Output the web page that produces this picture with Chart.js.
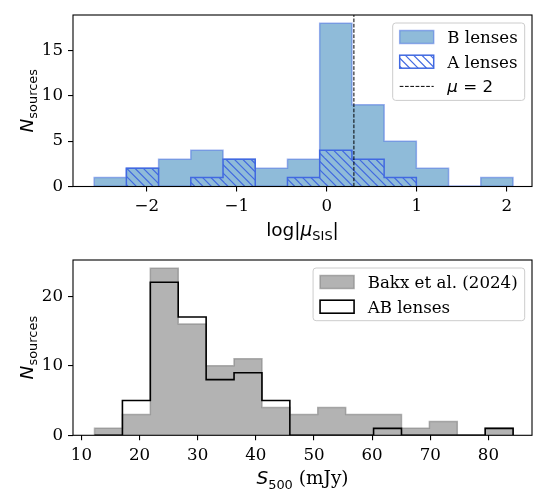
<!DOCTYPE html>
<html>
<head>
<meta charset="utf-8">
<script src="https://cdn.jsdelivr.net/npm/chart.js@4.4.1/dist/chart.umd.min.js"></script>
<style>
  body { margin: 0; background: #fff; }
  canvas { position: absolute; left: 0; }
</style>
</head>
<body>
<canvas id="muChart" width="541" height="245" style="top:0"></canvas>
<canvas id="fluxChart" width="541" height="246" style="top:245px"></canvas>
<script>
'use strict';

// magnification histogram, log|mu_SIS|
const muEdges = [-2.585, -2.227, -1.869, -1.511, -1.153, -0.795, -0.437, -0.079, 0.279, 0.637, 0.995, 1.353, 1.711, 2.069];
const bLensCounts = [1, 2, 3, 4, 3, 2, 3, 18, 9, 5, 2, 0, 1];
const aLensCounts = [0, 2, 0, 1, 3, 0, 1, 4, 3, 1, 0, 0, 0];
const muTwo = Math.log10(2);
const muTicks = [-2, -1, 0, 1, 2];
const muCountTicks = [0, 5, 10, 15];

// 500 micron flux histogram
const fluxEdges = [12.25, 17.05, 21.85, 26.65, 31.45, 36.25, 41.05, 45.85, 50.65, 55.45, 60.25, 65.05, 69.85, 74.65, 79.45, 84.25];
const bakxCounts = [1, 3, 24, 16, 10, 11, 4, 3, 4, 3, 3, 1, 2, 0, 1];
const abLensCounts = [0, 5, 22, 17, 8, 9, 5, 0, 0, 0, 1, 0, 0, 0, 1];
const fluxTicks = [10, 20, 30, 40, 50, 60, 70, 80];
const fluxCountTicks = [0, 10, 20];

const FS = 16.67;   // tick and legend text
const LS = 18.5;    // axis titles
const SERIF = FS + 'px "DejaVu Serif"';
const SANS = FS + 'px "DejaVu Sans"';
const SANS_IT = 'italic ' + FS + 'px "DejaVu Sans"';
const T_SERIF = LS + 'px "DejaVu Serif"';
const T_SANS = LS + 'px "DejaVu Sans"';
const T_SANS_IT = 'italic ' + LS + 'px "DejaVu Sans"';
const T_SUB = (LS * 0.7).toFixed(2) + 'px "DejaVu Sans"';
const SUB_DY = 4.2;

const royal = 'rgb(65,105,225)';

// outline of a histogram: up the first edge, across each bin, down the last edge
function stepPoints(edges, counts) {
    let pts = [{x: edges[0], y: 0}];
    for (let i = 0; i < counts.length; i++) {
        pts.push({x: edges[i], y: counts[i]});
    }
    pts.push({x: edges[edges.length - 1], y: 0});
    return pts;
}

function hatchPattern(color) {
    const s = 25;
    const c = document.createElement('canvas');
    c.width = s; c.height = s;
    const g = c.getContext('2d');
    g.strokeStyle = color;
    g.lineWidth = 1.2;
    for (let k = -s; k <= s + 0.01; k += s / 3) {
        g.beginPath();
        g.moveTo(k - 2, -2);
        g.lineTo(k + s + 2, s + 2);
        g.stroke();
    }
    return g.createPattern(c, 'repeat');
}
const hatch = hatchPattern(royal);

function partsWidth(ctx, parts) {
    let w = 0;
    parts.forEach(p => { ctx.font = p.font; w += ctx.measureText(p.text).width; });
    return w;
}

function drawParts(ctx, parts, x, baseline) {
    ctx.textAlign = 'left';
    ctx.textBaseline = 'alphabetic';
    ctx.fillStyle = '#000';
    parts.forEach(p => {
        ctx.font = p.font;
        ctx.fillText(p.text, x, baseline + (p.dy || 0));
        x += ctx.measureText(p.text).width;
    });
}

function drawHandle(ctx, it, x, y, w, h) {
    if (it.kind === 'dash') {
        ctx.save();
        ctx.strokeStyle = '#000';
        ctx.lineWidth = 1;
        ctx.setLineDash([3.7, 1.6]);
        ctx.beginPath();
        ctx.moveTo(x, y + h / 2);
        ctx.lineTo(x + w, y + h / 2);
        ctx.stroke();
        ctx.restore();
        return;
    }
    if (it.fill) {
        ctx.fillStyle = it.fill;
        ctx.fillRect(x, y, w, h);
    }
    ctx.strokeStyle = it.stroke;
    ctx.lineWidth = it.lw;
    ctx.strokeRect(x, y, w, h);
}

// axis titles, box spines and an in-axes legend
const panelDecor = {
    id: 'panelDecor',
    afterDatasetsDraw(chart) {
        const ctx = chart.ctx, a = chart.chartArea;
        ctx.save();
        ctx.strokeStyle = '#000';
        ctx.lineWidth = 1.1;
        ctx.strokeRect(a.left, a.top, a.right - a.left, a.bottom - a.top);
        ctx.restore();
    },
    afterDraw(chart, args, opts) {
        const ctx = chart.ctx, a = chart.chartArea;
        ctx.save();
        const xw = partsWidth(ctx, opts.xTitle);
        drawParts(ctx, opts.xTitle, (a.left + a.right) / 2 - xw / 2, a.bottom + 49);

        const yw = partsWidth(ctx, opts.yTitle);
        ctx.save();
        ctx.translate(a.left - 40, (a.top + a.bottom) / 2);
        ctx.rotate(-Math.PI / 2);
        drawParts(ctx, opts.yTitle, -yw / 2, 0);
        ctx.restore();

        const items = opts.legend;
        const pad = 7, hw = 34, hh = 13, gap = 13.6, rowH = 24.7, edge = 14;
        let tw = 0;
        items.forEach(it => { tw = Math.max(tw, partsWidth(ctx, it.label)); });
        const w = pad + hw + gap + tw + pad;
        const h = edge * 2 + rowH * (items.length - 1);
        const x0 = a.right - 7.3 - w, y0 = a.top + 8;
        ctx.beginPath();
        ctx.roundRect(x0, y0, w, h, 3);
        ctx.fillStyle = 'rgba(255,255,255,0.8)';
        ctx.fill();
        ctx.strokeStyle = '#cccccc';
        ctx.lineWidth = 1;
        ctx.stroke();
        items.forEach((it, i) => {
            const cy = y0 + edge + i * rowH;
            drawHandle(ctx, it, x0 + pad, cy - hh / 2, hw, hh);
            drawParts(ctx, it.label, x0 + pad + hw + gap, cy + 6);
        });
        ctx.restore();
    }
};

function tickText(v) {
    return String(v).replace('-', '\u2212');
}

function axisOpts(min, max, tickList, extra) {
    return Object.assign({
        type: 'linear',
        min: min,
        max: max,
        afterBuildTicks: s => { s.ticks = tickList.map(v => ({value: v})); },
        grid: {drawOnChartArea: false, drawTicks: true, tickLength: 5, color: '#000', lineWidth: 1.1},
        border: {display: false},
        ticks: {color: '#000', font: {family: 'DejaVu Serif', size: FS}, padding: 5, callback: tickText, maxRotation: 0, autoSkip: false}
    }, extra);
}

const yTitle = [
    {text: 'N', font: T_SANS_IT},
    {text: 'sources', font: T_SUB, dy: SUB_DY}
];

const muTop = 18.9;
new Chart(document.getElementById('muChart').getContext('2d'), {
    type: 'line',
    data: {
        datasets: [
            {
                label: 'mu = 2',
                data: [{x: muTwo, y: 0}, {x: muTwo, y: muTop}],
                borderColor: '#000',
                borderWidth: 1,
                borderDash: [3.7, 1.6],
                fill: false,
                order: 1
            },
            {
                label: 'A lenses',
                data: stepPoints(muEdges, aLensCounts),
                stepped: true,
                borderColor: royal,
                borderWidth: 1.5,
                backgroundColor: hatch,
                fill: 'origin',
                order: 2
            },
            {
                label: 'B lenses',
                data: stepPoints(muEdges, bLensCounts),
                stepped: true,
                borderColor: 'rgba(65,105,225,0.5)',
                borderWidth: 1.5,
                backgroundColor: 'rgba(31,119,180,0.5)',
                fill: 'origin',
                order: 3
            }
        ]
    },
    options: {
        responsive: false,
        animation: false,
        parsing: false,
        elements: {point: {radius: 0}, line: {tension: 0}},
        layout: {padding: {left: 0, right: 9, top: 9, bottom: 0}},
        scales: {
            x: axisOpts(-2.82, 2.28, muTicks, {afterFit: s => { s.height = 58.5; }}),
            y: axisOpts(0, muTop, muCountTicks, {afterFit: s => { s.width = 73; }})
        },
        plugins: {
            legend: {display: false},
            tooltip: {enabled: false},
            panelDecor: {
                xTitle: [
                    {text: 'log|', font: T_SANS},
                    {text: '\u03bc', font: T_SANS_IT},
                    {text: 'SIS', font: T_SUB, dy: SUB_DY},
                    {text: '|', font: T_SANS}
                ],
                yTitle: yTitle,
                legend: [
                    {kind: 'patch', fill: 'rgba(31,119,180,0.5)', stroke: 'rgba(65,105,225,0.5)', lw: 1.5,
                        label: [{text: 'B lenses', font: SERIF}]},
                    {kind: 'patch', fill: hatch, stroke: royal, lw: 1.5,
                        label: [{text: 'A lenses', font: SERIF}]},
                    {kind: 'dash',
                        label: [{text: '\u03bc', font: SANS_IT}, {text: ' = 2', font: SANS}]}
                ]
            }
        }
    },
    plugins: [panelDecor]
});

new Chart(document.getElementById('fluxChart').getContext('2d'), {
    type: 'line',
    data: {
        datasets: [
            {
                label: 'AB lenses',
                data: stepPoints(fluxEdges, abLensCounts),
                stepped: true,
                borderColor: '#000',
                borderWidth: 1.6,
                fill: false,
                order: 1
            },
            {
                label: 'Bakx et al. (2024)',
                data: stepPoints(fluxEdges, bakxCounts),
                stepped: true,
                borderColor: 'rgba(128,128,128,0.6)',
                borderWidth: 1.5,
                backgroundColor: 'rgba(128,128,128,0.6)',
                fill: 'origin',
                order: 2
            }
        ]
    },
    options: {
        responsive: false,
        animation: false,
        parsing: false,
        elements: {point: {radius: 0}, line: {tension: 0}},
        layout: {padding: {left: 0, right: 9, top: 12.3, bottom: 0}},
        scales: {
            x: axisOpts(8.55, 87.5, fluxTicks, {afterFit: s => { s.height = 55.7; }}),
            y: axisOpts(0, 25.2, fluxCountTicks, {afterFit: s => { s.width = 73; }})
        },
        plugins: {
            legend: {display: false},
            tooltip: {enabled: false},
            panelDecor: {
                xTitle: [
                    {text: 'S', font: T_SANS_IT},
                    {text: '500', font: T_SUB, dy: SUB_DY},
                    {text: ' (mJy)', font: T_SERIF}
                ],
                yTitle: yTitle,
                legend: [
                    {kind: 'patch', fill: 'rgba(128,128,128,0.6)', stroke: 'rgba(128,128,128,0.6)', lw: 1.5,
                        label: [{text: 'Bakx et al. (2024)', font: SERIF}]},
                    {kind: 'patch', fill: null, stroke: '#000', lw: 1.6,
                        label: [{text: 'AB lenses', font: SERIF}]}
                ]
            }
        }
    },
    plugins: [panelDecor]
});
</script>
</body>
</html>
